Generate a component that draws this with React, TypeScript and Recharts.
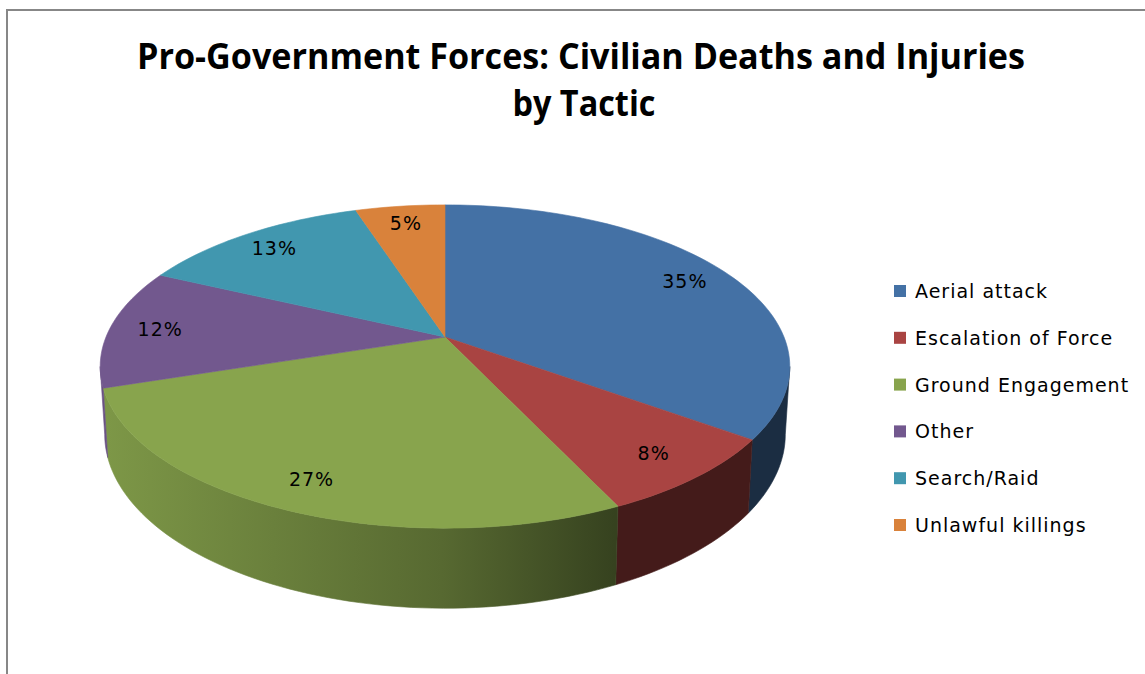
import React from 'react';
import { PieChart, Pie, Legend } from 'recharts';

const categories = ['Aerial attack', 'Escalation of Force', 'Ground Engagement', 'Other', 'Search/Raid', 'Unlawful killings'];
const shares = [35, 8, 27, 12, 13, 5];
const colors = ['#4471a5', '#a94442', '#88a44d', '#72588e', '#4197af', '#d9823b'];
const titleLines = ['Pro-Government Forces: Civilian Deaths and Injuries', 'by Tactic'];

const data = categories.map((name, i) => ({ name, value: shares[i], fill: colors[i] }));

// perspective model of the tilted pie
const K = 0.1827;
const V_RATIO = 0.4609;
const DEPTH_RATIO = 0.193;
const BOTTOM_SHRINK = 0.987;
const LABEL_F = 0.85;

const FONT = '"DejaVu Sans", sans-serif';

function project(cx: number, cy: number, r: number, thetaDeg: number, f = 1) {
  const t = (thetaDeg * Math.PI) / 180;
  const X = f * Math.sin(t);
  const Z = f * Math.cos(t);
  const w = 1 + K * Z;
  return { x: cx + (r * X) / w, y: cy - (r * V_RATIO * Z) / w, w };
}

function shade(hex: string, f: number) {
  const n = parseInt(hex.slice(1), 16);
  const r = Math.round(((n >> 16) & 255) * f);
  const g = Math.round(((n >> 8) & 255) * f);
  const b = Math.round((n & 255) * f);
  return `rgb(${r},${g},${b})`;
}

const TopShape = (props: any) => {
  const { cx, cy, outerRadius, startAngle, endAngle, fill } = props;
  const th0 = 90 - startAngle;
  const th1 = 90 - endAngle;
  const n = Math.max(2, Math.ceil(Math.abs(th1 - th0) / 1.5));
  let d = `M${cx},${cy}`;
  for (let i = 0; i <= n; i++) {
    const p = project(cx, cy, outerRadius, th0 + ((th1 - th0) * i) / n);
    d += ` L${p.x.toFixed(2)},${p.y.toFixed(2)}`;
  }
  d += ' Z';
  return <path d={d} fill={fill} stroke={fill} strokeWidth={0.6} />;
};

const VIS0 = (Math.acos(-K) * 180) / Math.PI;
const VIS1 = 360 - VIS0;

const WallShape = (props: any) => {
  const { cx, cy, outerRadius, startAngle, endAngle, fill, index } = props;
  const th0 = 90 - startAngle;
  const th1 = 90 - endAngle;
  const a = Math.max(Math.min(th0, th1), VIS0);
  const b = Math.min(Math.max(th0, th1), VIS1);
  if (a >= b) return <g />;
  const n = Math.max(2, Math.ceil((b - a) / 1.5));
  const top: string[] = [];
  const bot: string[] = [];
  for (let i = 0; i <= n; i++) {
    const th = a + ((b - a) * i) / n;
    const p = project(cx, cy, outerRadius, th);
    top.push(`${p.x.toFixed(2)},${p.y.toFixed(2)}`);
    const xb = cx + (p.x - cx) * BOTTOM_SHRINK;
    const yb = p.y + (outerRadius * DEPTH_RATIO) / p.w;
    bot.push(`${xb.toFixed(2)},${yb.toFixed(2)}`);
  }
  const d = `M${top.join(' L')} L${bot.reverse().join(' L')} Z`;
  const gid = `wallgrad-${index}`;
  const x1 = cx - outerRadius;
  const x2 = cx + outerRadius * 0.5;
  return (
    <g>
      <defs>
        <linearGradient id={gid} gradientUnits="userSpaceOnUse" x1={x1} y1={0} x2={x2} y2={0}>
          <stop offset="0" stopColor={shade(fill, 0.92)} />
          <stop offset="0.66" stopColor={shade(fill, 0.64)} />
          <stop offset="1" stopColor={shade(fill, 0.4)} />
        </linearGradient>
      </defs>
      <path d={d} fill={`url(#${gid})`} stroke={`url(#${gid})`} strokeWidth={0.6} />
    </g>
  );
};

const renderLabel = (props: any) => {
  const { cx, cy, midAngle, outerRadius, percent } = props;
  const p = project(cx, cy, outerRadius, 90 - midAngle, LABEL_F);
  return (
    <text
      x={p.x}
      y={p.y}
      textAnchor="middle"
      dominantBaseline="central"
      fontFamily={FONT}
      fontSize={19}
      letterSpacing={1}
      fill="#000"
    >
      {`${Math.round(percent * 100)}%`}
    </text>
  );
};

const renderLegend = (props: any) => {
  const payload = (props.payload || []).filter((p: any) => p.type !== 'none');
  const seen = new Set<string>();
  const items = payload.filter((p: any) => {
    if (seen.has(p.value)) return false;
    seen.add(p.value);
    return true;
  });
  return (
    <svg width={260} height={280} style={{ display: 'block' }}>
      {items.map((it: any, i: number) => (
        <g key={it.value}>
          <rect x={9} y={5 + 46.8 * i} width={12} height={12} fill={it.color} />
          <text x={30} y={18 + 46.8 * i} fontFamily={FONT} fontSize={19} letterSpacing={1} fill="#000">
            {it.value}
          </text>
        </g>
      ))}
    </svg>
  );
};

export default function App() {
  return (
    <div style={{ position: 'absolute', left: 0, top: 0, width: 1145, height: 674, background: '#fff' }}>
      <svg width={1145} height={674} style={{ position: 'absolute', left: 0, top: 0 }}>
        <line x1={7} y1={10} x2={1145} y2={10} stroke="#878787" strokeWidth={2} />
        <line x1={7} y1={9} x2={7} y2={674} stroke="#878787" strokeWidth={2} />
        <text
          x={581}
          y={69}
          textAnchor="middle"
          fontFamily='"Open Sans", sans-serif'
          fontWeight="bold"
          fontSize={35}
          textLength={888}
          lengthAdjust="spacingAndGlyphs"
          fill="#000"
        >
          {titleLines[0]}
        </text>
        <text
          x={584}
          y={116}
          textAnchor="middle"
          fontFamily='"Open Sans", sans-serif'
          fontWeight="bold"
          fontSize={35}
          textLength={143}
          lengthAdjust="spacingAndGlyphs"
          fill="#000"
        >
          {titleLines[1]}
        </text>
      </svg>
      <div style={{ position: 'absolute', left: 0, top: 0 }}>
        <PieChart width={1145} height={674} margin={{ top: 0, right: 0, bottom: 0, left: 0 }}>
          <Pie
            data={data}
            dataKey="value"
            nameKey="name"
            cx={445}
            cy={337}
            outerRadius={339}
            startAngle={90}
            endAngle={-270}
            isAnimationActive={false}
            legendType="none"
            label={false}
            labelLine={false}
            shape={WallShape}
            inactiveShape={WallShape}
            activeShape={WallShape}
            stroke="none"
          />
          <Pie
            data={data}
            dataKey="value"
            nameKey="name"
            cx={445}
            cy={337}
            outerRadius={339}
            startAngle={90}
            endAngle={-270}
            isAnimationActive={false}
            legendType="square"
            label={renderLabel}
            labelLine={false}
            shape={TopShape}
            inactiveShape={TopShape}
            activeShape={TopShape}
            stroke="none"
          />
          <Legend
            layout="vertical"
            align="right"
            verticalAlign="top"
            wrapperStyle={{ position: 'absolute', left: 885, top: 280, width: 260 }}
            content={renderLegend}
          />
        </PieChart>
      </div>
    </div>
  );
}
